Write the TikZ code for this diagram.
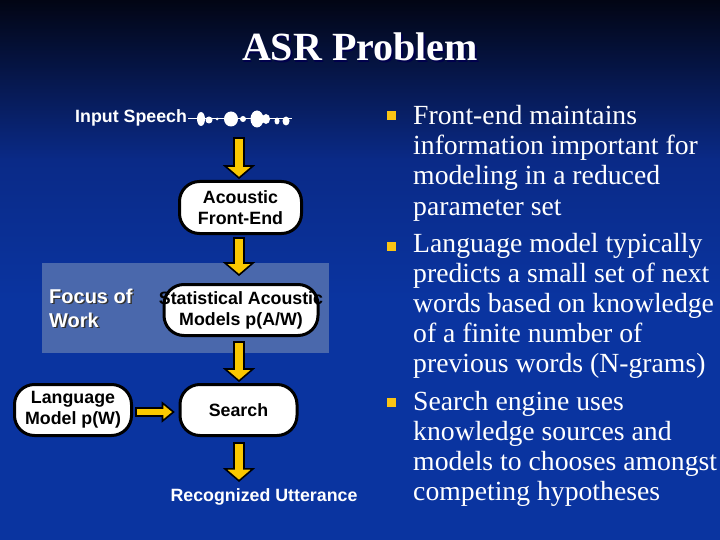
\documentclass[tikz,border=0pt]{standalone}
\usepackage{fontspec}
\setmainfont{Liberation Serif}
\setsansfont{Liberation Sans}
\usetikzlibrary{calc}
\definecolor{bgtop}{RGB}{2,5,20}
\definecolor{bgmid}{RGB}{10,42,135}
\definecolor{bgblue}{RGB}{10,52,160}
\definecolor{focusblue}{RGB}{74,104,172}
\definecolor{arrowyellow}{RGB}{250,200,0}
\definecolor{bulletyellow}{RGB}{250,196,20}
\tikzset{
  capsule/.style={draw=black, line width=3pt, fill=white, rounded corners=20pt,
    align=center, inner sep=0pt, font=\sffamily\bfseries\fontsize{17.8}{21}\selectfont},
  lbl/.style={text=white, inner sep=0pt, font=\sffamily\bfseries\fontsize{17.8}{21}\selectfont},
  focuslbl/.style={inner sep=0pt, anchor=base west, font=\sffamily\bfseries\fontsize{20}{24}\selectfont},
  blockarrow/.style={draw=black, line width=1.6pt, fill=arrowyellow, line join=miter},
  bodytext/.style={text=white, inner sep=0pt, anchor=base west, font=\rmfamily\fontsize{27.7}{30}\selectfont},
  bulletsq/.style={fill=bulletyellow, draw=none}
}
\newcommand\vblockarrow[2]{%
  \draw[blockarrow] let \p1=(#1), \p2=(#2) in
    (\x1-5pt,\y1) -- (\x1+5pt,\y1) -- (\x1+5pt,\y2+12pt) -- (\x1+14pt,\y2+12pt)
    -- (\x1,\y2) -- (\x1-14pt,\y2+12pt) -- (\x1-5pt,\y2+12pt) -- cycle;}
\newcommand\hblockarrow[2]{%
  \draw[blockarrow] let \p1=(#1), \p2=(#2) in
    (\x1,\y1+4pt) -- (\x1,\y1-4pt) -- (\x2-11pt,\y1-4pt) -- (\x2-11pt,\y1-9pt)
    -- (\x2,\y1) -- (\x2-11pt,\y1+9pt) -- (\x2-11pt,\y1+4pt) -- cycle;}
\begin{document}
\begin{tikzpicture}[x=1pt,y=-1pt]
% background
\useasboundingbox (0,0) rectangle (720,540);
\fill[bgblue] (0,0) rectangle (720,540);
\shade[top color=bgtop, bottom color=bgmid] (0,0) rectangle (720,160);
\shade[top color=bgmid, bottom color=bgblue] (0,159.5) rectangle (720,300);

% title
\node[text=black!70!blue, anchor=base, inner sep=0pt, font=\rmfamily\bfseries\fontsize{40}{44}\selectfont] at (361.5,62.5) {ASR Problem};
\node[text=white, anchor=base, inner sep=0pt, font=\rmfamily\bfseries\fontsize{40}{44}\selectfont] (title) at (360,61) {ASR Problem};

% focus of work panel
\fill[focusblue] (42,263) rectangle (329,353);
\node[focuslbl, text=black!80] at (50.5,304.5) {Focus of};
\node[focuslbl, text=white] (focus1) at (49,303) {Focus of};
\node[focuslbl, text=black!80] at (50.5,328.5) {Work};
\node[focuslbl, text=white] (focus2) at (49,327) {Work};

% input speech + waveform
\node[lbl, anchor=base west] (input) at (75,123) {Input Speech};
\draw[white, line width=1pt] (input.east |- 0,119) ++(1,0) coordinate (w0) -- (292,119) coordinate (w1);
\begin{scope}[white]
\fill (201,119) ellipse [x radius=4, y radius=7];
\fill (209,120) circle [radius=3.5];
\fill (217,119) circle [radius=1.5];
\fill (231,119) ellipse [x radius=7, y radius=7.5];
\fill (243,119) circle [radius=3];
\fill (257,119) ellipse [x radius=6.5, y radius=8.5];
\fill (266,119) ellipse [x radius=4, y radius=5];
\fill (277,121) ellipse [x radius=2.5, y radius=3.5];
\fill (286,121) ellipse [x radius=3.5, y radius=4.5];
\end{scope}
\coordinate (wave) at (239,138);

% boxes
\node[capsule, minimum width=122pt, minimum height=52pt] (fe) at (240.5,207.5) {Acoustic\\Front-End};
\node[capsule, minimum width=154pt, minimum height=51pt] (sam) at (241,310) {\makebox[0pt]{Statistical Acoustic}\\Models p(A/W)};
\node[capsule, minimum width=117pt, minimum height=51pt] (lm) at (73,410) {Language\\Model p(W)};
\node[capsule, minimum width=117pt, minimum height=51pt] (search) at (238.5,410) {Search};
\node[lbl, anchor=base] (ru) at (264,501) {Recognized Utterance};

% arrows
\vblockarrow{wave}{$(fe.north)+(-1.5,-2)$}
\vblockarrow{$(fe.south)+(-1.5,3)$}{$(sam.north)+(-2,-8)$}
\vblockarrow{$(sam.south)+(-2,5)$}{$(search.north)+(0.5,-2)$}
\vblockarrow{$(search.south)+(0.5,6)$}{$(ru.north)+(-25,-7)$}
\hblockarrow{$(lm.east)+(3,2)$}{$(search.west)+(-5,2)$}

% bullets
\fill[bulletyellow] (387,111) rectangle (396,120);
\fill[bulletyellow] (387,242) rectangle (396,251);
\fill[bulletyellow] (387,398) rectangle (396,407);

\node[bodytext] (b1a) at (413,125) {Front-end maintains};
\node[bodytext] (b1b) at (413,155) {information important for};
\node[bodytext] (b1c) at (413,185) {modeling in a reduced};
\node[bodytext] (b1d) at (413,215) {parameter set};
\node[bodytext] (b2a) at (413,252) {Language model typically};
\node[bodytext] (b2b) at (413,282) {predicts a small set of next};
\node[bodytext] (b2c) at (413,312) {words based on knowledge};
\node[bodytext] (b2d) at (413,342) {of a finite number of};
\node[bodytext] (b2e) at (413,372) {previous words (N-grams)};
\node[bodytext] (b3a) at (413,410) {Search engine uses};
\node[bodytext] (b3b) at (413,440) {knowledge sources and};
\node[bodytext] (b3c) at (413,470) {models to chooses amongst};
\node[bodytext] (b3d) at (413,500) {competing hypotheses};
\end{tikzpicture}
\end{document}
